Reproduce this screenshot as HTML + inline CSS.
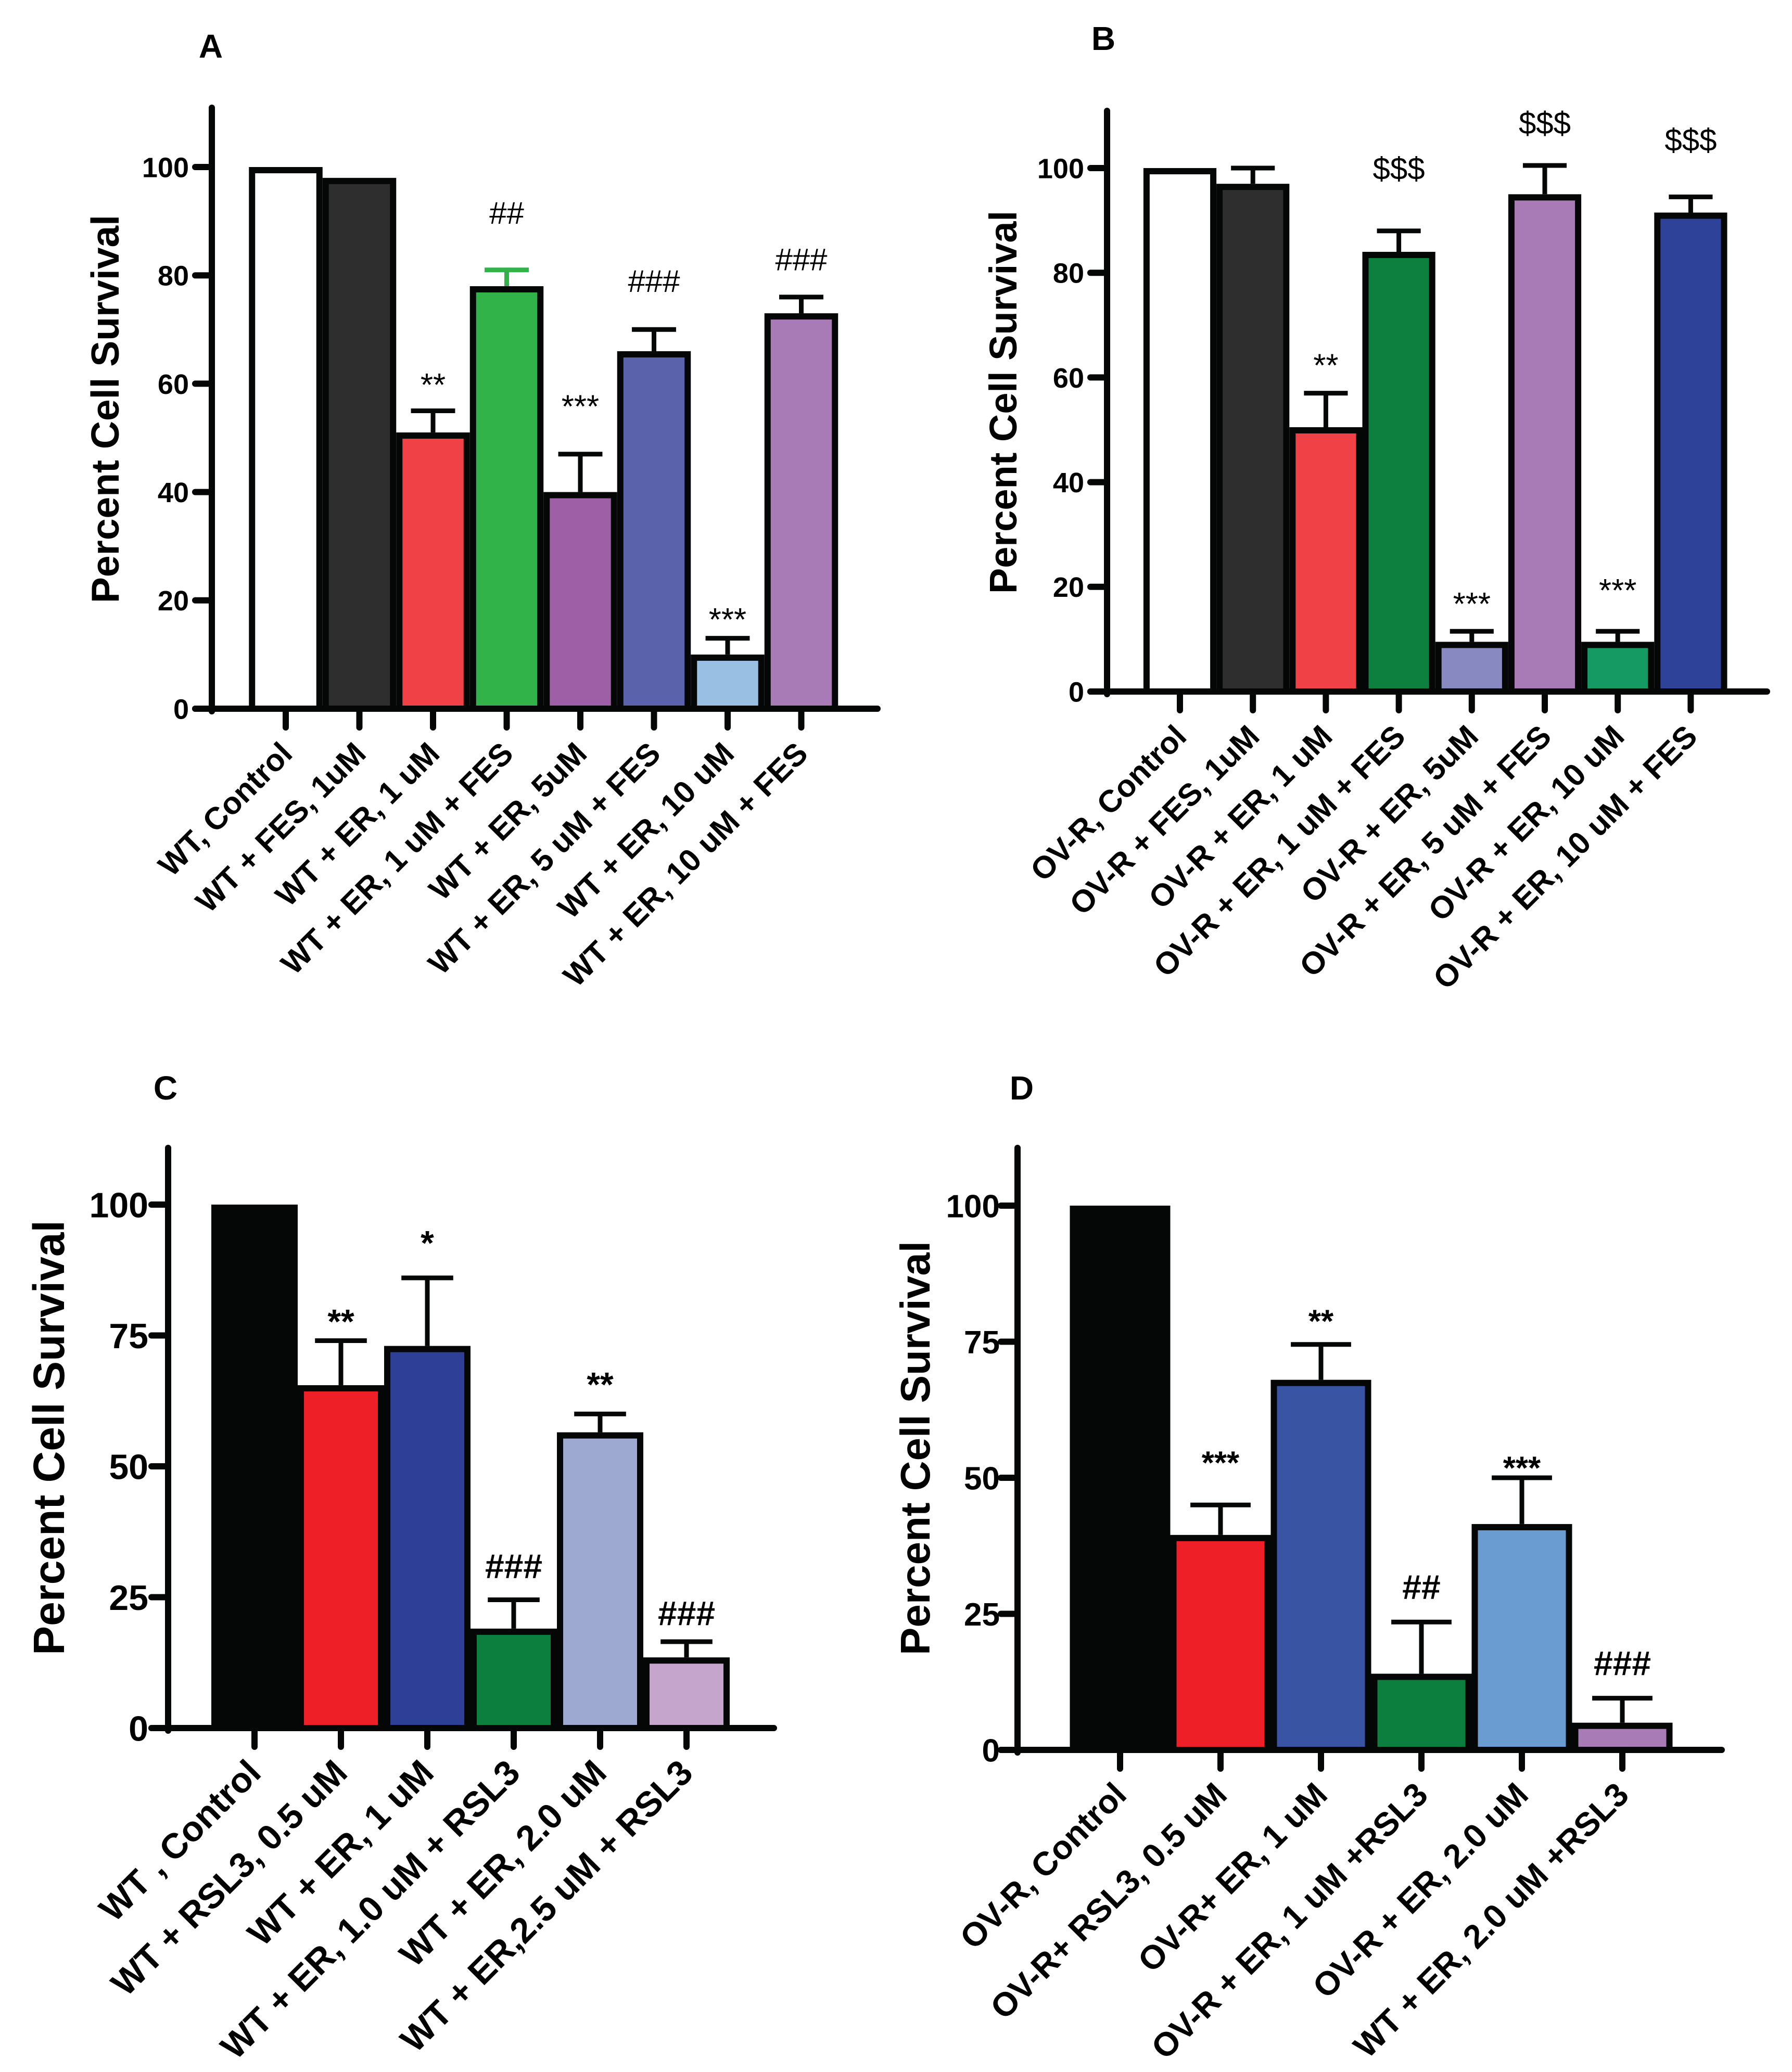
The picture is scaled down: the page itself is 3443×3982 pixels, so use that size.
<!DOCTYPE html>
<html><head><meta charset="utf-8">
<style>
html,body{margin:0;padding:0;background:#fff;}
svg{display:block;}
text{font-family:"Liberation Sans",Arial,sans-serif;}
</style></head>
<body>
<svg id="fig" width="3443" height="3982" viewBox="0 0 3443 3982" xmlns="http://www.w3.org/2000/svg">
<rect width="3443" height="3982" fill="#fff"/>
</svg>
<script>
// ---- Panel A data ----
const catsA = ["WT, Control","WT + FES, 1uM","WT + ER, 1 uM","WT + ER, 1 uM + FES","WT +  ER, 5uM","WT + ER, 5 uM + FES","WT + ER, 10 uM","WT + ER, 10 uM + FES"];
const valsA = [100, 98, 51, 78, 40, 66, 10, 73];
const errA = [0, 0.5, 4, 3, 7, 4, 3, 3];
const colorsA = ["#ffffff","#2e2e2e","#ef4146","#32b34a","#9e5fa6","#5962ab","#99bfe3","#a87bb6"];
const annA = ["","","**","##","***","###","***","###"];
const annYA = [0,0,61,91.6,57,79,17.7,83];
const ticksA = [0,20,40,60,80,100];

// ---- Panel B data ----
const catsB = ["OV-R, Control","OV-R + FES, 1uM","OV-R + ER, 1 uM","OV-R + ER, 1 uM + FES","OV-R + ER, 5uM","OV-R + ER, 5 uM + FES","OV-R + ER, 10 uM","OV-R + ER, 10 uM + FES"];
const valsB = [100, 97, 50.5, 84, 9.5, 95, 9.5, 91.5];
const errB = [0, 3, 6.5, 4, 2, 5.5, 2, 3];
const colorsB = ["#ffffff","#2e2e2e","#ef4146","#0d7f3f","#8789c0","#a87bb6","#159a63","#2f4299"];
const annB = ["","","**","$$$","***","$$$","***","$$$"];
const annYB = [0,0,63.6,100,18,108.7,20.6,105.5];
const ticksB = [0,20,40,60,80,100];

// ---- Panel C data ----
const catsC = ["WT , Control","WT + RSL3, 0.5 uM","WT + ER, 1 uM","WT + ER, 1.0 uM + RSL3","WT + ER, 2.0 uM","WT + ER,2.5 uM + RSL3"];
const valsC = [100, 65.5, 73, 19, 56.5, 13.5];
const errC = [0, 8.5, 13, 5.5, 3.5, 3];
const colorsC = ["#050707","#ee1f26","#2d3f96","#0c7f3f","#9ea9d2","#c6a5cc"];
const annC = ["","**","*","###","**","###"];
const annYC = [0,79,94,31,67,22];
const ticksC = [0,25,50,75,100];

// ---- Panel D data ----
const catsD = ["OV-R, Control","OV-R+ RSL3, 0.5 uM","OV-R+ ER, 1 uM","OV-R + ER, 1 uM +RSL3","OV-R + ER, 2.0 uM","WT + ER, 2.0 uM +RSL3"];
const valsD = [100, 39.5, 68, 14, 41.5, 5];
const errD = [0, 5.5, 6.5, 9.5, 8.5, 4.5];
const colorsD = ["#050707","#ee1f26","#3a54a4","#0c7f3f","#6a9bd1","#a87bb6"];
const annD = ["","***","**","##","***","###"];
const annYD = [0,54,80,30,53,16];
const ticksD = [0,25,50,75,100];

const NS = "http://www.w3.org/2000/svg";
const svg = document.getElementById("fig");
function mk(tag, attrs, parent){
  const e = document.createElementNS(NS, tag);
  for (const k in attrs) e.setAttribute(k, attrs[k]);
  (parent||svg).appendChild(e);
  return e;
}

function panel(p){
  const g = mk("g", {});
  
  
  const yS = v => p.zero - v * (p.zero - p.y100) / 100;
  const xS = i => p.x0 + i * p.step;
  const L = mk("text", {x:p.lx, y:p.ly, "font-size":64, "font-weight":"bold", "text-anchor":"middle"}, g);
  L.textContent = p.id;
  
  
  p.vals.forEach((v,i)=>{
    const cx = xS(i), w = p.step, bw = 12;
    const top = yS(v);
    const r = mk("rect", {x:cx - w/2 + bw/2, y:top + bw/2, width:w - bw, height:p.zero - top - bw/2, fill:p.colors[i], stroke:"#050707", "stroke-width":bw}, g);
    
    
    if (p.err[i] > 0.9) {
      const et = yS(v + p.err[i]);
      const ec = (i===3 && p.id==="A") ? "#32b34a" : "#050707";
      const eg = mk("g", {stroke:ec, "stroke-width":9}, g);
      
      
      mk("line", {x1:cx, x2:cx, y1:top, y2:et}, eg);
      mk("line", {x1:cx - w*0.3, x2:cx + w*0.3, y1:et, y2:et}, eg);
    }
    if (p.ann[i]) {
      const isStar = p.ann[i][0] === "*";
      const fs = isStar ? p.sfs : p.hfs;
      const t = mk("text", {x:cx, y:yS(p.annY[i]) + (isStar ? fs*0.55 : fs*0.36), "font-size":fs, "text-anchor":"middle", "font-weight":p.aw}, g);
      t.textContent = p.ann[i];
      
      
    }
  });
  const ax = mk("g", {stroke:"#050707", "stroke-width":12, "stroke-linecap":"round"}, g);
  
  
  mk("line", {x1:p.ax, x2:p.ax, y1:p.top, y2:p.zero+5}, ax);
  mk("line", {x1:p.ax - 32, x2:p.right, y1:p.zero, y2:p.zero}, ax);
  p.ticks.forEach(t=>{
    mk("line", {x1:p.ax - 32, x2:p.ax, y1:yS(t), y2:yS(t)}, ax);
    const tl = mk("text", {x:p.ax - p.tgap, y:yS(t) + p.tfs*0.36, "font-size":p.tfs, "font-weight":"bold", "text-anchor":"end"}, g);
    tl.textContent = t;
    
    
  });
  p.cats.forEach((c,i)=>{
    const cx = xS(i);
    mk("line", {x1:cx, x2:cx, y1:p.zero, y2:p.zero + 36}, ax);
    const px = cx + 16, py = p.zero + 90;
    const tl = mk("text", {x:px, y:py, "font-size":p.cfs, "font-weight":"bold", "text-anchor":"end", transform:`rotate(-45 ${px} ${py})`}, g);
    tl.textContent = c;
    
    
  });
  const yt = mk("text", {x:p.yx, y:p.yy, "font-size":p.yfs, "font-weight":"bold", "text-anchor":"middle", transform:`rotate(-90 ${p.yx} ${p.yy})`}, g);
  yt.textContent = "Percent Cell Survival";
  
  
}

panel({id:"A", cats:catsA, vals:valsA, err:errA, colors:colorsA, ann:annA, annY:annYA, ticks:ticksA,
  ax:407, zero:1362, y100:321, top:207, right:1686, x0:549, step:141.5,
  tgap:44, tfs:54, cfs:60, yx:228, yy:786, yfs:75, lx:405, ly:111, sfs:62, hfs:60, aw:"normal"});
panel({id:"B", cats:catsB, vals:valsB, err:errB, colors:colorsB, ann:annB, annY:annYB, ticks:ticksB,
  ax:2127, zero:1329, y100:323, top:213, right:3395, x0:2267, step:140.2,
  tgap:44, tfs:54, cfs:60, yx:1953, yy:773, yfs:74, lx:2120, ly:96, sfs:62, hfs:60, aw:"normal"});
panel({id:"C", cats:catsC, vals:valsC, err:errC, colors:colorsC, ann:annC, annY:annYC, ticks:ticksC,
  ax:323, zero:3321, y100:2315, top:2206, right:1487, x0:489, step:166,
  tgap:38, tfs:68, cfs:68, yx:123, yy:2763, yfs:84, lx:318, ly:2113, sfs:66, hfs:66, aw:"bold"});
panel({id:"D", cats:catsD, vals:valsD, err:errD, colors:colorsD, ann:annD, annY:annYD, ticks:ticksD,
  ax:1955, zero:3363, y100:2317, top:2206, right:3308, x0:2152, step:193,
  tgap:34, tfs:62, cfs:64, yx:1786, yy:2783, yfs:80, lx:1963, ly:2113, sfs:62, hfs:66, aw:"bold"});
</script>
</body></html>
